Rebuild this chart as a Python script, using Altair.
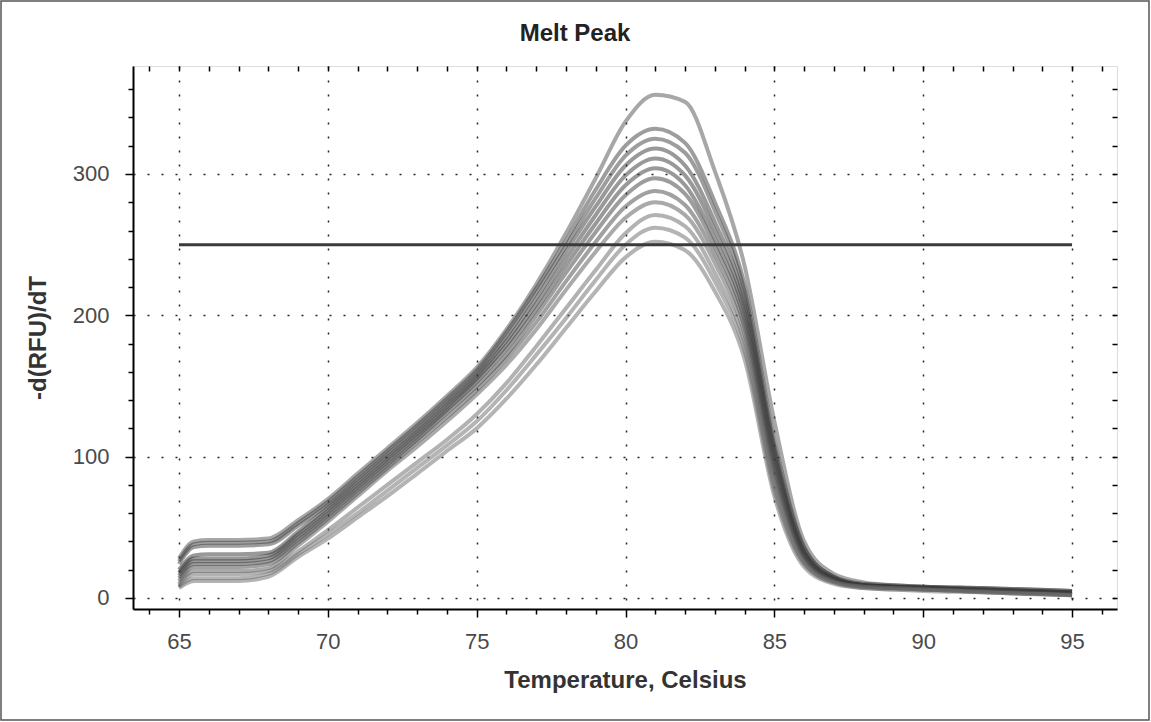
import altair as alt
import pandas as pd

# Temperature grid (Celsius)
temps = [65, 65.5, 66, 67, 68, 69, 70, 71, 72, 73, 74, 75, 76, 77, 78, 79, 80, 81, 82, 83, 84, 85, 86, 87, 88, 89, 90, 92, 95]

# -d(RFU)/dT melt-peak curves
curve_a = [28, 40, 41, 41, 42, 55, 70, 88, 106, 124, 143, 163, 190, 222, 258, 297, 337, 356, 351, 302, 235, 125, 40, 17, 11, 9, 8, 7, 5]
curve_b = [26, 38, 39, 39, 40, 53, 68, 86, 104, 122, 141, 161, 188, 219, 253, 289, 320, 332, 322, 280, 222, 112, 36, 15, 10, 9, 8, 7, 5]
curve_c = [24, 36, 37, 37, 38, 51, 66, 84, 102, 120, 139, 159, 185, 216, 249, 283, 313, 325, 315, 274, 217, 108, 35, 15, 9, 8, 8, 6, 4]
curve_d = [20, 30, 31, 31, 32, 47, 64, 82, 100, 118, 137, 157, 182, 212, 245, 277, 306, 318, 306, 266, 211, 104, 33, 14, 9, 8, 7, 6, 4]
curve_e = [18, 28, 28, 28, 30, 45, 62, 80, 98, 116, 135, 155, 179, 208, 240, 271, 299, 311, 299, 260, 206, 100, 32, 14, 9, 8, 7, 6, 4]
curve_f = [16, 26, 26, 26, 28, 43, 60, 78, 96, 114, 133, 153, 176, 204, 235, 265, 292, 304, 292, 254, 201, 96, 30, 13, 9, 8, 7, 5, 3]
curve_g = [14, 24, 24, 24, 26, 41, 58, 76, 94, 112, 131, 150, 172, 200, 230, 259, 285, 297, 286, 249, 196, 92, 29, 13, 9, 7, 7, 5, 3]
curve_h = [12, 22, 22, 22, 24, 39, 56, 74, 92, 110, 128, 147, 169, 195, 224, 252, 277, 288, 278, 243, 191, 88, 28, 12, 8, 7, 6, 5, 3]
curve_i = [10, 19, 19, 19, 21, 37, 54, 72, 90, 107, 125, 144, 165, 190, 218, 245, 269, 280, 271, 237, 186, 84, 26, 12, 8, 7, 6, 5, 2]
curve_j = [9, 17, 17, 17, 19, 33, 48, 64, 80, 96, 112, 130, 152, 178, 205, 232, 258, 271, 263, 230, 180, 80, 25, 11, 8, 7, 6, 4, 2]
curve_k = [8, 14, 14, 14, 17, 31, 45, 60, 76, 92, 108, 125, 147, 172, 198, 225, 250, 262, 255, 224, 175, 76, 24, 11, 7, 6, 6, 4, 2]
curve_l = [7, 12, 12, 12, 15, 29, 42, 57, 72, 88, 104, 120, 141, 165, 191, 217, 241, 252, 246, 217, 169, 72, 22, 10, 7, 6, 5, 4, 2]

curve_names = ["A", "B", "C", "D", "E", "F", "G", "H", "I", "J", "K", "L"]
curves = [curve_a, curve_b, curve_c, curve_d, curve_e, curve_f, curve_g, curve_h, curve_i, curve_j, curve_k, curve_l]
curve_grays = ["#505050", "#3c3c3c", "#3c3c3c", "#333333", "#333333", "#333333", "#3c3c3c", "#444444",
               "#555555", "#666666", "#6a6a6a", "#6a6a6a"]

# Threshold line
threshold_value = [250]
threshold_start = [65]
threshold_end = [95]

x_ticks = list(range(64, 97))
y_ticks = list(range(0, 380, 20))

rows = []
for name, vals in zip(curve_names, curves):
    for t, v in zip(temps, vals):
        rows.append({"curve": name, "temp": t, "val": v})
df = pd.DataFrame(rows)

thr = pd.DataFrame({"x0": threshold_start, "x1": threshold_end, "v": threshold_value})

FONT = "Liberation Sans"
xs = alt.Scale(domain=[63.455, 96.51], nice=False, zero=False)
ys = alt.Scale(domain=[-7.8, 376.4], nice=False, zero=False)

x_axis = alt.Axis(
    values=x_ticks,
    labelExpr="datum.value % 5 === 0 ? datum.label : ''",
    labelOverlap=False,
    labelFont=FONT, labelFontSize=22, labelColor="#4a4a4a",
    labelPadding=14,
    tickSize=alt.ConditionalAxisNumber(condition={"test": "datum.value % 5 === 0", "value": 8}, value=5),
    tickColor="#000", tickWidth=1.5,
    domainColor="#000", domainWidth=2,
    grid=True, gridColor="#000", gridDash=[2, 12], gridWidth=1.5,
    gridOpacity=alt.ConditionalAxisNumber(condition={"test": "datum.value % 5 === 0", "value": 0.85}, value=0),
    title="Temperature, Celsius", titleFont=FONT, titleFontSize=24, titleFontWeight="bold",
    titleColor="#333", titlePadding=16,
)
y_axis = alt.Axis(
    values=y_ticks,
    labelExpr="datum.value % 100 === 0 ? datum.label : ''",
    labelOverlap=False,
    labelFont=FONT, labelFontSize=22, labelColor="#4a4a4a",
    labelPadding=16,
    tickSize=alt.ConditionalAxisNumber(condition={"test": "datum.value % 100 === 0", "value": 8}, value=5),
    tickColor="#000", tickWidth=1.5,
    domainColor="#000", domainWidth=2,
    grid=True, gridColor="#000", gridDash=[2, 12], gridWidth=1.5,
    gridOpacity=alt.ConditionalAxisNumber(condition={"test": "datum.value % 100 === 0", "value": 0.85}, value=0),
    title="-d(RFU)/dT", titleFont=FONT, titleFontSize=24, titleFontWeight="bold",
    titleColor="#333", titlePadding=22,
)
top_axis = alt.Axis(orient="top", values=x_ticks, labels=False, domain=False, grid=False, title=None,
                    tickSize=5, tickColor="#000", tickWidth=1.5, offset=-5)
right_axis = alt.Axis(orient="right", values=y_ticks, labels=False, domain=False, grid=False, title=None,
                      tickSize=5, tickColor="#000", tickWidth=1.5, offset=-5)

lines = alt.Chart(df).mark_line(interpolate="monotone", strokeWidth=4, opacity=0.5).encode(
    x=alt.X("temp:Q", scale=xs, axis=x_axis),
    y=alt.Y("val:Q", scale=ys, axis=y_axis),
    color=alt.Color("curve:N", scale=alt.Scale(domain=curve_names, range=curve_grays), legend=None),
    detail="curve:N",
)

rule = alt.Chart(thr).mark_rule(color="#3a3a3a", strokeWidth=3).encode(
    x=alt.X("x0:Q", scale=xs, axis=top_axis),
    x2="x1:Q",
    y=alt.Y("v:Q", scale=ys, axis=right_axis),
)

frame = alt.Chart(thr).mark_rect(fillOpacity=0, stroke="#555", strokeWidth=1.5, clip=False).encode(
    x=alt.value(-132), x2=alt.value(1016), y=alt.value(-65), y2=alt.value(654)
)

chart = alt.layer(lines, rule, frame).resolve_axis(x="independent", y="independent").properties(
    width=984, height=543,
    title=alt.TitleParams("Melt Peak", font=FONT, fontSize=24, fontWeight="bold", color="#222",
                          anchor="middle", frame="group", dx=-50, dy=64, offset=18),
    autosize=alt.AutoSizeParams(type="none"),
    padding={"left": 133, "top": 66, "right": 34, "bottom": 113},
).configure_view(stroke="#000", strokeWidth=2).configure(background="white")

chart.save("out.html", embed_options={"renderer": "svg", "actions": False})
